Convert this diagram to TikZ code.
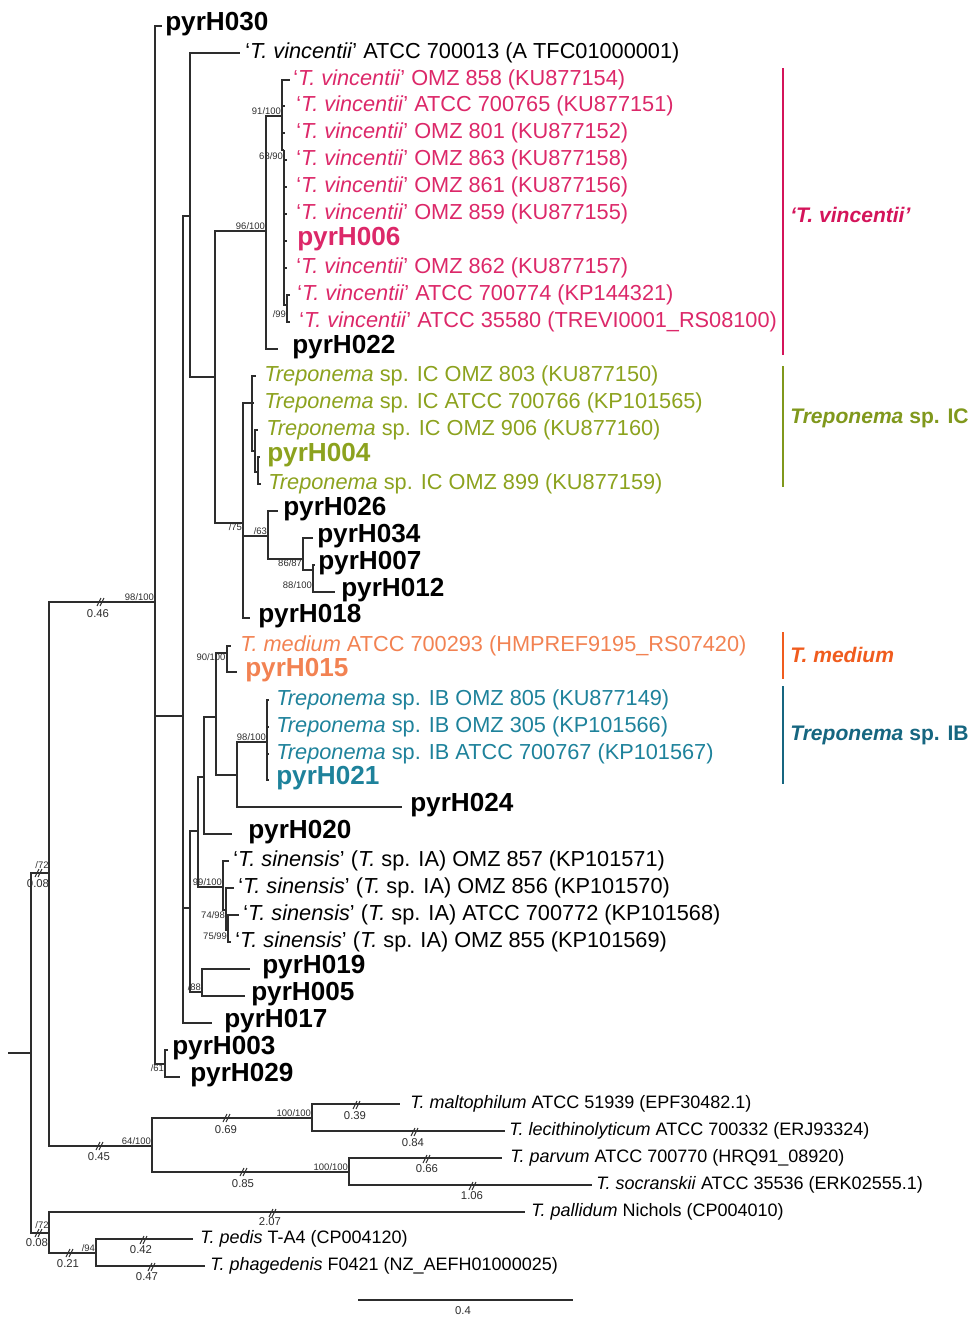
\documentclass[tikz,border=0pt]{standalone}
\usepackage{fontspec}
\setmainfont{Liberation Sans}
\definecolor{vinc}{RGB}{220,40,105}
\definecolor{vincD}{RGB}{212,20,90}
\definecolor{icc}{RGB}{140,162,30}
\definecolor{iccD}{RGB}{128,152,28}
\definecolor{medc}{RGB}{242,130,82}
\definecolor{medD}{RGB}{240,92,30}
\definecolor{ibc}{RGB}{30,130,155}
\definecolor{ibD}{RGB}{22,102,128}
\definecolor{ln}{RGB}{45,45,45}
\newcommand\TVin{‘\textit{T. vincentii}’}
\newcommand\TSin{‘\textit{T. sinensis}’ (\textit{T.} sp. IA)}
\newcommand\leaf[6]{\coordinate (#1) at (#2,#4);\node[#5] (#1l) at (#3,#4) {#6};}
\begin{document}
\begin{tikzpicture}[x=0.75pt,y=-0.75pt,
  br/.style={draw=ln,line width=0.9pt},
  lf/.style={anchor=west,inner sep=0pt,font=\fontsize{16.3}{18}\selectfont},
  og/.style={anchor=west,inner sep=0pt,font=\fontsize{13.5}{16}\selectfont},
  px/.style={anchor=west,inner sep=0pt,yshift=1.5pt,font=\fontsize{19.6}{21}\bfseries\selectfont},
  bs/.style={font=\fontsize{7.1}{8}\selectfont,inner sep=0.6pt,text=ln},
  bl/.style={font=\fontsize{8.5}{10}\selectfont,inner sep=0pt,text=ln},
  clade/.style={anchor=west,inner sep=0pt,font=\fontsize{15.8}{18}\bfseries\selectfont},
  cbar/.style={line width=1.5pt},
  brk/.pic={\draw[ln,line width=0.7pt] (-4,4)--(0,-4) (-1,4)--(3,-4);}]
\useasboundingbox (0,0) rectangle (968,1317);
% internal nodes
\coordinate (R0) at (8,1053);
\coordinate (R) at (31,1053);
\coordinate (U) at (49,873);
\coordinate (Lw) at (49,1233);
\coordinate (A) at (155,602);
\coordinate (O) at (152,1146);
\coordinate (X183) at (183,716);
\coordinate (P61) at (165,1064);
\coordinate (X190) at (190,216);
\coordinate (B190) at (190,908);
\coordinate (X215) at (215,377);
\coordinate (N96) at (266,231);
\coordinate (N91) at (282,116);
\coordinate (N68) at (284,150);
\coordinate (N99v) at (287,305);
\coordinate (N75) at (243,523);
\coordinate (NIC) at (252,403);
\coordinate (NIC2) at (255,451);
\coordinate (NIC3) at (258,472);
\coordinate (N63) at (268,536);
\coordinate (N86) at (303,559);
\coordinate (N88) at (313,570);
\coordinate (X198) at (198,831);
\coordinate (X204) at (204,777);
\coordinate (X216) at (216,717);
\coordinate (Nmed) at (227,653);
\coordinate (X237) at (237,775);
\coordinate (N98) at (267,742);
\coordinate (N99s) at (223,887);
\coordinate (N74) at (226,910);
\coordinate (N75s) at (228,930);
\coordinate (N88b) at (202,992);
\coordinate (N100a) at (312,1118);
\coordinate (N100b) at (349,1172);
\coordinate (N94) at (96,1253);
% leaves
\leaf{t1}{162}{165}{26}{px}{pyrH030}
\leaf{t2}{240}{245}{53}{lf}{\TVin{} ATCC 700013 (A TFC01000001)}
\leaf{t3}{290}{293}{80}{lf,text=vinc}{\TVin{} OMZ 858 (KU877154)}
\leaf{t4}{285}{296}{106}{lf,text=vinc}{\TVin{} ATCC 700765 (KU877151)}
\leaf{t5}{285}{296}{133}{lf,text=vinc}{\TVin{} OMZ 801 (KU877152)}
\leaf{t6}{287}{296}{160}{lf,text=vinc}{\TVin{} OMZ 863 (KU877158)}
\leaf{t7}{287}{296}{187}{lf,text=vinc}{\TVin{} OMZ 861 (KU877156)}
\leaf{t8}{287}{296}{214}{lf,text=vinc}{\TVin{} OMZ 859 (KU877155)}
\leaf{t9}{287}{297}{241}{px,text=vinc}{pyrH006}
\leaf{t10}{287}{296}{268}{lf,text=vinc}{\TVin{} OMZ 862 (KU877157)}
\leaf{t11}{290}{297}{295}{lf,text=vinc}{\TVin{} ATCC 700774 (KP144321)}
\leaf{t12}{290}{299}{322}{lf,text=vinc}{\TVin{} ATCC 35580 (TREVI0001\_RS08100)}
\leaf{t13}{278}{292}{349}{px}{pyrH022}
\leaf{t14}{256}{264}{376}{lf,text=icc}{\textit{Treponema} sp. IC OMZ 803 (KU877150)}
\leaf{t15}{254}{264}{403}{lf,text=icc}{\textit{Treponema} sp. IC ATCC 700766 (KP101565)}
\leaf{t16}{258}{266}{430}{lf,text=icc}{\textit{Treponema} sp. IC OMZ 906 (KU877160)}
\leaf{t17}{260}{267}{457}{px,text=icc}{pyrH004}
\leaf{t18}{261}{268}{484}{lf,text=icc}{\textit{Treponema} sp. IC OMZ 899 (KU877159)}
\leaf{t19}{278}{283}{511}{px}{pyrH026}
\leaf{t20}{313}{317}{538}{px}{pyrH034}
\leaf{t21}{315}{318}{565}{px}{pyrH007}
\leaf{t22}{335}{341}{592}{px}{pyrH012}
\leaf{t23}{250}{258}{618}{px}{pyrH018}
\leaf{t24}{231}{240}{646}{lf,text=medc}{\textit{T. medium} ATCC 700293 (HMPREF9195\_RS07420)}
\leaf{t25}{237}{245}{672}{px,text=medc}{pyrH015}
\leaf{t26}{269}{276}{700}{lf,text=ibc}{\textit{Treponema} sp. IB OMZ 805 (KU877149)}
\leaf{t27}{269}{276}{727}{lf,text=ibc}{\textit{Treponema} sp. IB OMZ 305 (KP101566)}
\leaf{t28}{269}{276}{754}{lf,text=ibc}{\textit{Treponema} sp. IB ATCC 700767 (KP101567)}
\leaf{t29}{269}{276}{780}{px,text=ibc}{pyrH021}
\leaf{t30}{402}{410}{807}{px}{pyrH024}
\leaf{t31}{232}{248}{834}{px}{pyrH020}
\leaf{t32}{229}{233}{861}{lf}{\TSin{} OMZ 857 (KP101571)}
\leaf{t33}{234}{238}{888}{lf}{\TSin{} OMZ 856 (KP101570)}
\leaf{t34}{239}{243}{915}{lf}{\TSin{} ATCC 700772 (KP101568)}
\leaf{t35}{231}{235}{942}{lf}{\TSin{} OMZ 855 (KP101569)}
\leaf{t36}{250}{262}{969}{px}{pyrH019}
\leaf{t37}{245}{251}{996}{px}{pyrH005}
\leaf{t38}{212}{224}{1023}{px}{pyrH017}
\leaf{t39}{168}{172}{1050}{px}{pyrH003}
\leaf{t40}{180}{190}{1077}{px}{pyrH029}
\leaf{t41}{400}{410}{1104}{og}{\textit{T. maltophilum} ATCC 51939 (EPF30482.1)}
\leaf{t42}{505}{509}{1131}{og}{\textit{T. lecithinolyticum} ATCC 700332 (ERJ93324)}
\leaf{t43}{502}{510}{1158}{og}{\textit{T. parvum} ATCC 700770 (HRQ91\_08920)}
\leaf{t44}{592}{596}{1185}{og}{\textit{T. socranskii} ATCC 35536 (ERK02555.1)}
\leaf{t45}{525}{531}{1212}{og}{\textit{T. pallidum} Nichols (CP004010)}
\leaf{t46}{193}{200}{1239}{og}{\textit{T. pedis} T-A4 (CP004120)}
\leaf{t47}{205}{210}{1266}{og}{\textit{T. phagedenis} F0421 (NZ\_AEFH01000025)}
% branches
\draw[br] (R0) -- (R);
\foreach \p/\c in {R/U,R/Lw,U/A,U/O,A/t1,A/X183,A/P61,P61/t39,P61/t40,
  X183/X190,X183/B190,X183/t38,X190/t2,X190/X215,X215/N96,X215/N75,
  N96/N91,N96/t13,N91/t3,N91/t4,N91/t5,N91/N68,N68/t6,N68/t7,N68/t8,N68/t9,N68/t10,N68/N99v,
  N99v/t11,N99v/t12,N75/NIC,N75/N63,N75/t23,NIC/t14,NIC/t15,NIC/NIC2,NIC2/t16,NIC2/NIC3,
  NIC3/t17,NIC3/t18,N63/t19,N63/N86,N86/t20,N86/N88,N88/t21,N88/t22,
  B190/X198,B190/N88b,N88b/t36,N88b/t37,X198/X204,X198/N99s,X204/X216,X204/t31,
  X216/Nmed,X216/X237,Nmed/t24,Nmed/t25,X237/N98,X237/t30,N98/t26,N98/t27,N98/t28,N98/t29,
  N99s/t32,N99s/N74,N74/t33,N74/N75s,N75s/t34,N75s/t35,
  O/N100a,O/N100b,N100a/t41,N100a/t42,N100b/t43,N100b/t44,Lw/t45,Lw/N94,N94/t46,N94/t47}
  {\draw[br] (\p) |- (\c);}
% support values
\node[bs,anchor=south east] at (A) {98/100};
\node[bs,anchor=south east] at (N91) {91/100};
\node[bs,anchor=east] at (284,156) {68/90};
\node[bs,anchor=south east] at (N96) {96/100};
\node[bs,anchor=east] at (287,314) {/99};
\node[bs,anchor=north east] at (N75) {/75};
\node[bs,anchor=south east] at (N63) {/63};
\node[bs,anchor=north east] at (N86) {86/87};
\node[bs,anchor=east] at (313,585) {88/100};
\node[bs] at (211,657) {90/100};
\node[bs,anchor=south east] at (N98) {98/100};
\node[bs,anchor=south east] at (N99s) {99/100};
\node[bs,anchor=east] at (226,915) {74/98};
\node[bs,anchor=east] at (228,936) {75/99};
\node[bs,anchor=south east] at (N88b) {/88};
\node[bs,anchor=north east] at (P61) {/61};
\node[bs,anchor=south east] at (O) {64/100};
\node[bs,anchor=south east] at (N100a) {100/100};
\node[bs,anchor=south east] at (N100b) {100/100};
\node[bs,anchor=south east] at (N94) {/94};
\node[bs] at (42,865) {/72};
\node[bs] at (42,1225) {/72};
% broken branches with lengths
\pic at (101,602) {brk}; \node[bl] at (98,614) {0.46};
\pic at (39,873) {brk}; \node[bl] at (38,884) {0.08};
\pic at (100,1146) {brk}; \node[bl] at (99,1157) {0.45};
\pic at (227,1118) {brk}; \node[bl] at (226,1130) {0.69};
\pic at (357,1105) {brk}; \node[bl] at (355,1116) {0.39};
\pic at (415,1132) {brk}; \node[bl] at (413,1143) {0.84};
\pic at (244,1172) {brk}; \node[bl] at (243,1184) {0.85};
\pic at (427,1159) {brk}; \node[bl] at (427,1169) {0.66};
\pic at (473,1186) {brk}; \node[bl] at (472,1196) {1.06};
\pic at (273,1213) {brk}; \node[bl] at (270,1222) {2.07};
\pic at (39,1233) {brk}; \node[bl] at (37,1243) {0.08};
\pic at (70,1253) {brk}; \node[bl] at (68,1264) {0.21};
\pic at (144,1240) {brk}; \node[bl] at (141,1250) {0.42};
\pic at (152,1267) {brk}; \node[bl] at (147,1277) {0.47};
% scale bar
\coordinate (s1) at (358,1300);
\coordinate (s2) at (573,1300);
\draw[br] (s1) -- (s2);
\node[bl] (sl) at (463,1311) {0.4};
% clade bars
\coordinate (v1) at (783,68); \coordinate (v2) at (783,355);
\draw[cbar,vincD] (v1) -- (v2);
\node[clade,text=vincD] (vl) at (790,215) {\textit{‘T. vincentii’}};
\coordinate (c1) at (783,366); \coordinate (c2) at (783,487);
\draw[cbar,iccD] (c1) -- (c2);
\node[clade,text=iccD] (cl) at (790,418) {\textit{Treponema} sp. IC};
\coordinate (m1) at (783,632); \coordinate (m2) at (783,679);
\draw[cbar,medD] (m1) -- (m2);
\node[clade,text=medD] (ml) at (790,655) {\textit{T. medium}};
\coordinate (b1) at (783,686); \coordinate (b2) at (783,784);
\draw[cbar,ibD] (b1) -- (b2);
\node[clade,text=ibD] (bl) at (790,735) {\textit{Treponema} sp. IB};
\end{tikzpicture}
\end{document}
